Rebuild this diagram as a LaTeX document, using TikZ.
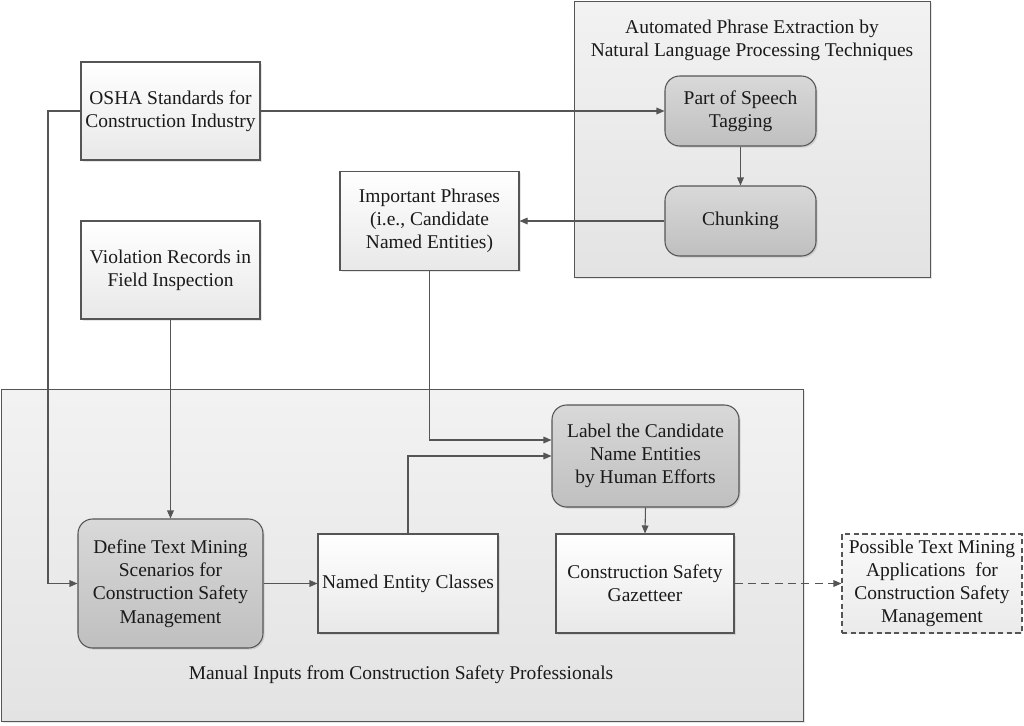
\documentclass[tikz,border=0pt]{standalone}
\usepackage{fontspec}
\setmainfont{Liberation Serif}
\usetikzlibrary{arrows.meta,shadows,positioning}
\definecolor{linec}{HTML}{555555}
\definecolor{textc}{HTML}{1A1A1A}
\tikzset{
  sz/.style 2 args={minimum width=#1*0.75pt, minimum height=#2*0.75pt},
  base/.style={draw=linec, line width=0.8pt, inner sep=0pt, align=center,
    text=textc, font=\fontsize{14.6}{17.4}\selectfont},
  plainbox/.style={base, top color=white, bottom color=black!9,
    drop shadow={opacity=0.2, shadow xshift=1.2pt, shadow yshift=-1.2pt}},
  roundbox/.style={base, rounded corners=11pt, top color=black!15, bottom color=black!25,
    drop shadow={opacity=0.25, shadow xshift=1.2pt, shadow yshift=-1.2pt}},
  dashbox/.style={base, dashed, dash pattern=on 4pt off 2.5pt, top color=black!2, bottom color=black!8},
  container/.style={draw=linec, line width=0.8pt, top color=black!5, bottom color=black!11,
    drop shadow={opacity=0.2, shadow xshift=1.2pt, shadow yshift=-1.2pt}},
  label/.style={text=textc, align=center, font=\fontsize{14.6}{17.4}\selectfont},
  arr/.style={draw=linec, line width=0.8pt, -{Triangle[length=6pt,width=5pt]}},
  darr/.style={arr, dash pattern=on 6pt off 4pt},
}
\begin{document}
\begin{tikzpicture}[x=0.75pt,y=-0.75pt]
\useasboundingbox (0,0) rectangle (1024,725);
% containers
\node[container, sz={356}{276}, anchor=north west] (autobox) at (574,0.6) {};
\node[container, sz={802}{332}, anchor=north west] (manualbox) at (0.6,389) {};
\node[label] (autotitle) at (752,40) {Automated Phrase Extraction by\\Natural Language Processing Techniques};
\node[label] (manualtitle) at (401,675) {Manual Inputs from Construction Safety Professionals};
% boxes
\node[plainbox, sz={179}{98}] (osha) at (170.5,111) {OSHA Standards for\\Construction Industry};
\node[plainbox, sz={179}{98}] (viol) at (170.5,270) {Violation Records in\\Field Inspection};
\node[plainbox, sz={179}{99}] (imp) at (429.5,221) {Important Phrases\\(i.e., Candidate\\Named Entities)};
\node[roundbox, sz={151}{70}] (pos) at (740.5,111) {Part of Speech\\Tagging};
\node[roundbox, sz={151}{70}] (chunk) at (740.5,221) {Chunking};
\node[roundbox, sz={185}{129}] (define) at (170.5,583.5) {Define Text Mining\\Scenarios for\\Construction Safety\\Management};
\node[plainbox, sz={180}{99}] (nec) at (408,583.5) {Named Entity Classes};
\node[roundbox, sz={187}{102}] (lab) at (645.5,456) {Label the Candidate\\Name Entities\\by Human Efforts};
\node[plainbox, sz={178}{99}] (gaz) at (645,583.5) {Construction Safety\\Gazetteer};
\node[dashbox, sz={180}{99}] (poss) at (932,583.5) {Possible Text Mining\\Applications~~for\\Construction Safety\\Management};
\coordinate (leftrail) at (48,300);
% connectors
\draw[arr] (osha.east) -- (pos.west);
\draw[arr] (pos.south) -- (chunk.north);
\draw[arr] (chunk.west) -- (imp.east);
\draw[arr] (osha.west) -| (leftrail) |- (define.west);
\draw[arr] (viol.south) -- (define.north);
\draw[arr] (define.east) -- (nec.west);
\draw[arr] (imp.south) |- ([yshift=12pt]lab.west);
\draw[arr] (nec.north) |- (lab.west);
\draw[arr] (lab.south) -- (gaz.north);
\draw[darr] (gaz.east) -- (poss.west);
\end{tikzpicture}
\end{document}
